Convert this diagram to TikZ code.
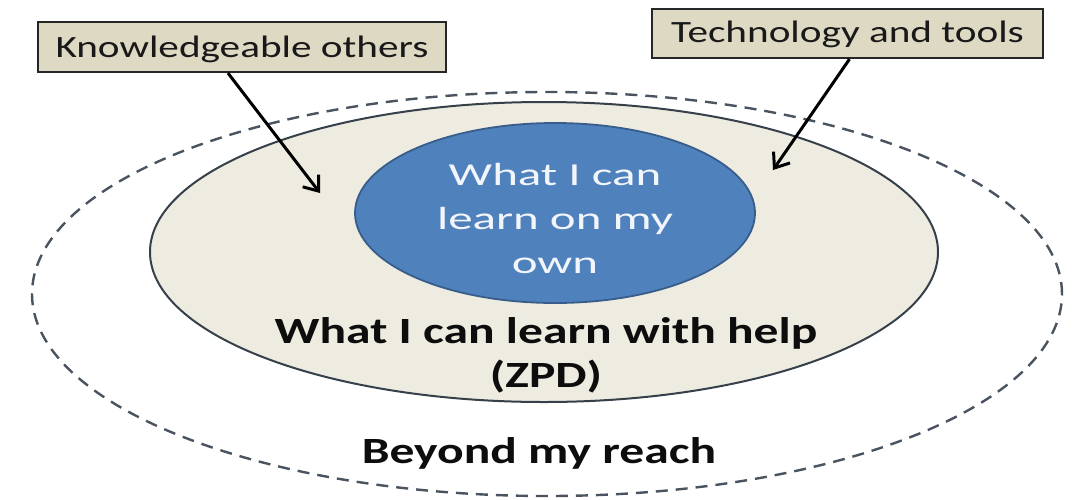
\documentclass[tikz,border=0pt]{standalone}
\usepackage{fontspec}
\setmainfont{Carlito}
\newfontfamily\lblfont[FakeStretch=1.33]{Carlito}
\newfontfamily\bluefont[FakeStretch=1.53]{Carlito}
\newfontfamily\boldwide[FakeStretch=1.34]{Carlito}
\usetikzlibrary{shapes.geometric,arrows.meta,calc}
\definecolor{beigefill}{HTML}{EEECE1}
\definecolor{boxfill}{HTML}{DDD9C3}
\definecolor{bluefill}{HTML}{4F81BD}
\definecolor{blueedge}{HTML}{385D8A}
\definecolor{dashcol}{HTML}{4A5360}
\definecolor{ringedge}{HTML}{36404A}
\definecolor{lighttext}{HTML}{F2F6FB}
\tikzset{
  zone/.style={ellipse, inner sep=0pt},
  labelbox/.style={draw=black!85, line width=2.2pt, fill=boxfill, inner sep=0pt,
     font=\lblfont\fontsize{31}{36}\selectfont, text=black!90},
  pointer/.style={line width=3pt, -{Straight Barb[length=13pt,width=20pt,line width=3pt]}},
  bigtext/.style={font=\boldwide\bfseries\fontsize{37}{44}\selectfont, text=black!95, align=center, inner sep=0pt}
}
\begin{document}
\begin{tikzpicture}[x=1pt,y=-1pt]
\useasboundingbox[fill=white] (0,0) rectangle (1073,499);
% outer dashed zone
\node[zone, draw=dashcol, line width=2.4pt, dash pattern=on 12pt off 8pt,
      minimum width=1030pt, minimum height=404pt] (beyond) at (547,294) {};
% ZPD zone
\node[zone, draw=ringedge, line width=2pt, fill=beigefill,
      minimum width=788pt, minimum height=300pt] (zpd) at (544,252) {};
% own zone
\node[zone, draw=blueedge, line width=1.8pt, fill=bluefill,
      minimum width=400pt, minimum height=180pt] (own) at (555,213) {};
% texts
\node[align=center, inner sep=0pt, text=lighttext,
      font=\bluefont\fontsize{32}{44}\selectfont] (owntext) at (555,218)
      {What I can\\learn on my\\own};
\node[bigtext] (zpdtext) at (546,355) {What I can learn with help\\(ZPD)};
\node[bigtext, anchor=base] (beyondtext) at (539,463) {Beyond my reach};
% label boxes
\node[labelbox, minimum width=408pt, text height=35pt, text depth=15pt]
      (know) at (242,47) {Knowledgeable others};
\node[labelbox, minimum width=391pt, text height=33pt, text depth=16pt]
      (tech) at (847.5,33.5) {Technology and tools};
% arrow tips
\coordinate (knowtip) at (320,193);
\coordinate (techtip) at (773,170);
\draw[pointer] ([xshift=-14pt]know.south) -- (knowtip);
\draw[pointer] ([xshift=2pt]tech.south) -- (techtip);
\end{tikzpicture}
\end{document}
